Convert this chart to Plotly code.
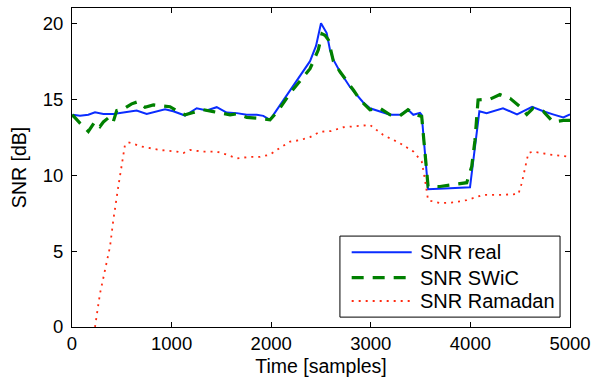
import plotly.graph_objects as go

# SNR real (blue, solid)
real_x = [0, 13, 80, 164, 231, 315, 415, 515, 649, 750, 850, 934, 1017, 1135, 1252, 1352, 1453, 1553,
          1654, 1754, 1855, 1921, 1988, 2089, 2190, 2290, 2390, 2450, 2500, 2557, 2590, 2624, 2691, 2791,
          2922, 2992, 3092, 3193, 3293, 3374, 3427, 3494, 3511, 3575, 3795, 3996, 4090, 4163, 4327, 4468,
          4619, 4732, 4829, 4933, 5000]
real_y = [13.85, 13.97, 13.9, 13.97, 14.14, 14.03, 14.03, 14.14, 14.25, 14.03, 14.2, 14.34, 14.2, 13.92,
          14.4, 14.25, 14.47, 14.12, 14.08, 13.97, 13.97, 13.9, 13.64, 14.6, 15.6, 16.5, 17.5, 18.5, 20.0,
          19.35, 18.25, 17.6, 16.8, 15.8, 14.8, 14.4, 14.2, 13.97, 13.97, 14.3, 13.97, 14.1, 13.97, 9.07,
          9.13, 9.2, 14.2, 14.08, 14.4, 14.0, 14.5, 14.2, 14.0, 13.8, 14.0]

# SNR SWiC (green, dashed)
swic_x = [0, 13, 80, 164, 231, 281, 315, 382, 415, 449, 515, 599, 666, 733, 817, 900, 984, 1068, 1135,
          1218, 1319, 1419, 1520, 1587, 1654, 1754, 1855, 1955, 1988, 2072, 2190, 2290, 2390, 2473, 2510,
          2540, 2574, 2624, 2691, 2825, 2892, 2992, 3092, 3193, 3293, 3374, 3460, 3511, 3544, 3575, 3695,
          3862, 3963, 4013, 4046, 4077, 4197, 4297, 4398, 4498, 4566, 4629, 4732, 4829, 4933, 5000]
swic_y = [13.85, 13.9, 13.42, 12.87, 13.53, 13.2, 13.5, 13.86, 13.53, 14.25, 14.34, 14.69, 14.84, 14.47,
          14.62, 14.56, 14.5, 14.18, 13.97, 14.12, 14.3, 14.18, 14.08, 13.97, 14.03, 13.8, 13.75, 13.68,
          13.64, 14.25, 15.4, 16.2, 17.0, 18.25, 19.3, 19.2, 18.9, 17.5, 16.8, 15.6, 14.95, 14.3, 14.4,
          13.97, 13.9, 14.3, 13.97, 13.86, 11.2, 9.25, 9.25, 9.42, 9.5, 10.56, 12.3, 14.95, 15.0, 15.3,
          15.05, 14.5, 14.0, 14.4, 14.2, 13.5, 13.6, 13.6]

# SNR Ramadan (red, dotted)
ram_x = [231, 281, 382, 415, 465, 500, 532, 566, 600, 683, 783, 884, 1051, 1118, 1185, 1318, 1452, 1553,
         1653, 1787, 1888, 1988, 2089, 2189, 2289, 2390, 2490, 2600, 2725, 2850, 2992, 3122, 3293, 3427,
         3511, 3544, 3575, 3695, 3830, 3963, 4130, 4300, 4482, 4515, 4582, 4629, 4799, 5000]
ram_y = [0.0, 2.2, 5.3, 7.05, 9.25, 10.8, 12.0, 12.15, 12.1, 11.9, 11.8, 11.65, 11.55, 11.45, 11.65, 11.55,
         11.55, 11.35, 11.1, 11.2, 11.2, 11.35, 11.8, 12.2, 12.3, 12.5, 12.85, 12.9, 13.15, 13.2, 13.3,
         12.65, 12.1, 11.55, 10.9, 9.7, 8.35, 8.15, 8.2, 8.35, 8.7, 8.7, 8.75, 9.45, 11.45, 11.55, 11.35,
         11.2]

series_names = ["SNR real", "SNR SWiC", "SNR Ramadan"]
x_ticks = [0, 1000, 2000, 3000, 4000, 5000]
y_ticks = [0, 5, 10, 15, 20]

FONT = "Liberation Sans, Arial, Helvetica, sans-serif"
styles = [dict(color="#0a2cff", width=2),
          dict(color="#008000", width=3.2, dash="12px,9px"),
          dict(color="#ff2a10", width=1.8, dash="2px,5px")]

fig = go.Figure()
for xs, ys, nm, st in zip([real_x, swic_x, ram_x], [real_y, swic_y, ram_y], series_names, styles):
    fig.add_trace(go.Scatter(x=xs, y=ys, mode="lines", name=nm, line=st, showlegend=False))

axis_common = dict(showline=True, linecolor="black", linewidth=1, mirror="ticks",
                   ticks="inside", ticklen=5, tickcolor="black", showgrid=False,
                   zeroline=False, tickfont=dict(size=18.5, color="black", family=FONT))

# Legend box (MATLAB-style), drawn in paper coordinates
leg_x0, leg_x1, leg_y0, leg_y1 = 0.538, 0.980, 0.031, 0.285
row_y = [0.234, 0.1545, 0.0815]
sym_x0, sym_x1, txt_x = 0.5616, 0.6821, 0.6954

shapes = [dict(type="rect", xref="paper", yref="paper", x0=leg_x0, x1=leg_x1, y0=leg_y0, y1=leg_y1,
               line=dict(color="black", width=1), fillcolor="white", layer="above")]
annotations = []
for ry, nm, st in zip(row_y, series_names, styles):
    shapes.append(dict(type="line", xref="paper", yref="paper", x0=sym_x0, x1=sym_x1, y0=ry, y1=ry,
                       line=st, layer="above"))
    annotations.append(dict(xref="paper", yref="paper", x=txt_x, y=ry, text=nm, showarrow=False,
                            xanchor="left", yanchor="middle", font=dict(size=20, color="black", family=FONT)))

fig.update_layout(
    width=601, height=383,
    margin=dict(l=72, r=31, t=8, b=56),
    paper_bgcolor="white", plot_bgcolor="white",
    font=dict(family=FONT, size=19, color="black"),
    xaxis=dict(range=[0, 5000], tickvals=x_ticks,
               title=dict(text="Time [samples]", font=dict(size=19.5), standoff=6), **axis_common),
    yaxis=dict(range=[0, 21], tickvals=y_ticks, ticklabelstandoff=4,
               title=dict(text="SNR [dB]", font=dict(size=19.5), standoff=10), **axis_common),
    shapes=shapes,
    annotations=annotations,
    showlegend=False,
)

fig.write_html("out.html")
